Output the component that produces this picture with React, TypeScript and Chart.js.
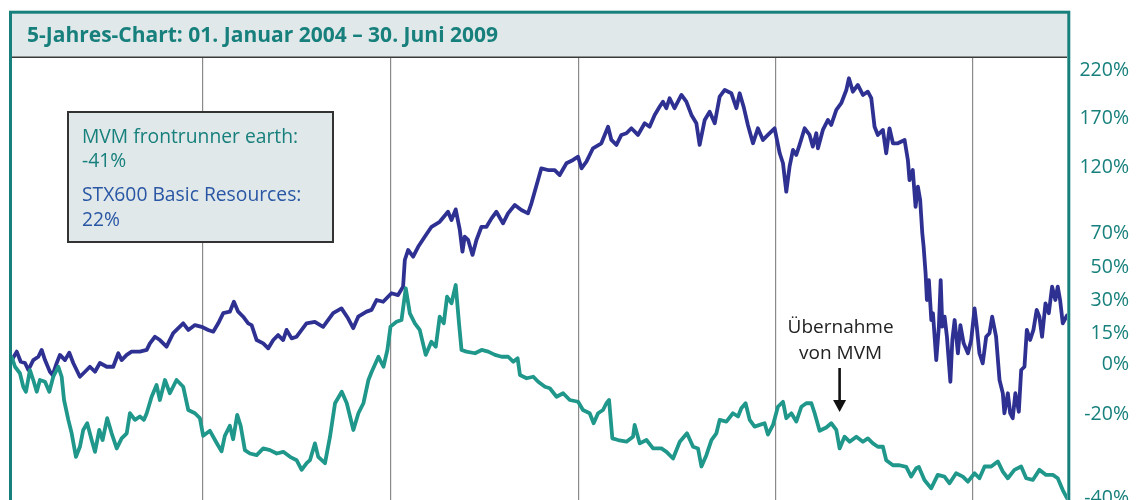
import { useEffect, useRef } from 'react';
import { Chart, registerables, LinearScale } from 'chart.js';

// ---------- data ----------
const yearTicks = [12, 24, 36, 48, 60]; // months since 01.01.2004 (year boundaries)
const yTicks = [-40, -20, 0, 15, 30, 50, 70, 120, 170, 220];

const seriesNames = ['MVM frontrunner earth', 'STX600 Basic Resources'];
const finalPerf = [-41, 22];

const annotationMonth = 51.88;
const annotationLines = ['Übernahme', 'von MVM'];
const titleText = '5-Jahres-Chart: 01. Januar 2004 \u2013 30. Juni 2009';

const stxMonths = [
  0, 0.30, 0.55, 0.82, 1.03, 1.34, 1.66, 1.87, 2.08, 2.39,
  2.56, 2.82, 3.02, 3.34, 3.61, 3.86, 4.28, 4.60, 4.91, 5.23,
  5.54, 5.97, 6.38, 6.70, 6.91, 7.23, 7.54, 8.06, 8.49, 8.69,
  9.01, 9.32, 9.74, 10.16, 10.79, 11.11, 11.53, 11.95, 12.37, 12.69,
  13.01, 13.33, 13.75, 14.01, 14.28, 14.60, 14.92, 15.14, 15.46, 15.88,
  16.20, 16.52, 16.83, 17.15, 17.37, 17.69, 18.01, 18.33, 18.64, 19.17,
  19.70, 20.34, 20.87, 21.29, 21.62, 21.94, 22.47, 22.79, 23.11, 23.53,
  24.06, 24.48, 24.80, 24.91, 25.12, 25.44, 25.76, 26.18, 26.61, 27.13,
  27.66, 27.88, 28.15, 28.41, 28.58, 28.72, 28.94, 29.22, 29.47, 29.79,
  30.11, 30.43, 30.74, 31.16, 31.48, 31.91, 32.33, 32.75, 32.97, 33.24,
  33.60, 34.02, 34.45, 34.77, 35.20, 35.62, 35.94, 36.15, 36.45, 36.85,
  37.36, 37.77, 37.97, 38.28, 38.58, 38.89, 39.19, 39.59, 40.00, 40.30,
  40.61, 40.91, 41.11, 41.32, 41.52, 41.82, 42.24, 42.54, 42.85, 43.15,
  43.35, 43.66, 43.96, 44.27, 44.57, 44.88, 45.28, 45.59, 45.79, 46.03,
  46.29, 46.60, 46.90, 47.21, 47.51, 47.92, 48.23, 48.43, 48.63, 48.83,
  49.04, 49.24, 49.44, 49.75, 50.05, 50.25, 50.46, 50.56, 50.86, 51.17,
  51.37, 51.68, 51.98, 52.29, 52.45, 52.69, 52.99, 53.30, 53.60, 53.81,
  54.01, 54.21, 54.52, 54.72, 54.92, 55.13, 55.43, 55.84, 56.04, 56.14,
  56.34, 56.51, 56.65, 56.79, 56.92, 57.00, 57.12, 57.20, 57.32, 57.47,
  57.57, 57.77, 57.93, 58.04, 58.14, 58.28, 58.42, 58.63, 58.75, 58.89,
  59.09, 59.24, 59.44, 59.70, 59.90, 60.11, 60.25, 60.42, 60.63, 60.85,
  61.06, 61.23, 61.48, 61.70, 61.91, 62.01, 62.23, 62.38, 62.54, 62.71,
  62.93, 63.08, 63.29, 63.44, 63.65, 63.86, 64.07, 64.24, 64.41, 64.63,
  64.84, 65.05, 65.26, 65.41, 65.56, 65.73, 66.0,
];
const stxValues = [
  2, 6.0, 1.1, 0.5, -2.4, 1.9, 3.5, 6.8, 1.9, -3.1,
  -4.4, 0.5, 4.4, 1.9, 5.5, 0.5, -5.1, -3.1, -1.1, -3.1,
  0.5, -1.1, -1.1, 5.2, 1.9, 4.4, 6.0, 6.0, 6.8, 10.0,
  13.2, 11.6, 8.4, 14.9, 19.4, 16.4, 18.6, 17.8, 16.4, 15.6,
  19.4, 24.0, 24.7, 29.2, 24.7, 22.4, 19.4, 18.6, 11.6, 10.0,
  7.6, 11.6, 14.0, 11.6, 16.4, 12.4, 13.2, 16.4, 19.4, 20.1,
  17.8, 24.0, 26.2, 21.7, 17.2, 22.4, 24.7, 25.5, 30, 29.2,
  34.1, 33.0, 38.1, 54.1, 60.0, 56.1, 61.9, 67.8, 74.7, 78.5,
  86.1, 79.9, 87.9, 72.3, 59.0, 67.8, 65.9, 57.1, 65.9, 74.7,
  74.7, 81.1, 86.1, 77.3, 84.9, 91.2, 87.4, 84.9, 92.5, 103.9,
  119.0, 117.7, 117.7, 113.9, 123.8, 127.2, 130.5, 119.0, 125.4, 139.1,
  144.2, 161.1, 147.6, 142.5, 152.7, 154.4, 159.5, 152.7, 164.6, 161.1,
  173.2, 181.8, 187.0, 180.2, 190.6, 180.2, 194.0, 187.0, 173.2, 164.6,
  142.5, 168.0, 176.6, 164.6, 192.2, 199.2, 195.8, 180.2, 195.8, 181.8,
  162.9, 144.2, 159.5, 147.6, 152.7, 159.5, 134.0, 123.8, 101.3, 120.3,
  137.4, 132.3, 142.5, 159.5, 152.7, 140.8, 154.4, 139.1, 157.8, 168.0,
  162.9, 178.4, 185.4, 199.2, 211.4, 197.4, 204.4, 194.0, 197.4, 190.6,
  161.1, 152.7, 157.8, 134.0, 159.5, 144.2, 144.2, 147.6, 127.2, 110.1,
  117.7, 89.9, 105.1, 95.0, 69.8, 62.0, 46.2, 30, 42.1, 20.9,
  23.9, 1.9, 17.9, 42.1, 17.9, 22.4, 13.2, -7.1, 11.6, 20.9,
  5.2, 18.6, 10.0, 5.2, 11.6, 26.2, 17.8, 5.2, 0.3, 13.2,
  14.9, 22.4, 13.2, -6.4, -11.7, -19.7, -11.7, -19.7, -21.0, -11.7,
  -19.1, -2.4, -1.1, 16.4, 11.6, 16.4, 25.5, 22.4, 13.2, 28.5,
  24.0, 38.1, 30, 38.1, 30, 19.4, 23,
];

const mvmMonths = [
  0, 0.19, 0.50, 0.71, 0.88, 1.13, 1.34, 1.56, 1.76, 2.08,
  2.35, 2.60, 2.92, 3.13, 3.28, 3.55, 3.76, 4.03, 4.28, 4.49,
  4.74, 5.02, 5.23, 5.50, 5.71, 6.00, 6.28, 6.60, 6.91, 7.23,
  7.43, 7.75, 8.06, 8.31, 8.49, 8.80, 9.11, 9.32, 9.64, 9.95,
  10.37, 10.79, 11.11, 11.53, 11.84, 12.05, 12.48, 12.91, 13.22, 13.43,
  13.75, 13.96, 14.22, 14.44, 14.71, 15.03, 15.46, 15.88, 16.31, 16.74,
  17.16, 17.59, 18.01, 18.33, 18.65, 18.86, 19.18, 19.39, 19.82, 20.14,
  20.46, 20.89, 21.21, 21.63, 21.95, 22.27, 22.59, 22.80, 23.23, 23.55,
  23.80, 24.00, 24.38, 24.70, 24.97, 25.23, 25.55, 25.86, 26.24, 26.60,
  26.88, 27.13, 27.39, 27.60, 27.88, 28.15, 28.36, 28.52, 28.83, 29.38,
  29.80, 30.22, 30.65, 31.07, 31.49, 31.81, 32.09, 32.24, 32.66, 33.09,
  33.40, 33.83, 34.14, 34.57, 34.99, 35.41, 35.94, 36.24, 36.65, 36.89,
  37.16, 37.46, 37.67, 37.83, 38.03, 38.38, 38.89, 39.29, 39.39, 39.70,
  40.11, 40.51, 41.02, 41.33, 41.73, 42.14, 42.58, 42.95, 43.25, 43.46,
  43.76, 44.07, 44.37, 44.57, 44.98, 45.38, 45.69, 45.89, 46.15, 46.40,
  46.70, 47.01, 47.31, 47.51, 47.82, 48.12, 48.43, 48.63, 48.94, 49.24,
  49.55, 49.85, 50.16, 50.36, 50.66, 51.07, 51.37, 51.68, 51.88, 52.18,
  52.49, 52.90, 53.30, 53.60, 53.91, 54.21, 54.52, 54.72, 55.13, 55.53,
  55.94, 56.24, 56.55, 56.71, 57.05, 57.46, 57.86, 58.27, 58.58, 58.98,
  59.39, 59.70, 60.11, 60.42, 60.75, 61.17, 61.59, 61.91, 62.23, 62.65,
  63.08, 63.40, 63.82, 64.24, 64.67, 65.10, 65.41, 65.73, 66.0,
];
const mvmValues = [
  3, -1.1, -3.7, -9.1, -11.1, -2.4, -6.4, -11.1, -6.4, -7.1,
  -11.1, -5.1, -1.1, -5.1, -14.4, -21.4, -24.6, -30.2, -27.8, -23.8,
  -22.2, -26.2, -29.0, -23.8, -26.2, -21.0, -24.6, -28.2, -25.8, -24.6,
  -19.7, -21.4, -20.6, -21.4, -19.7, -13.1, -8.4, -14.4, -6.4, -11.7,
  -6.4, -9.1, -18.4, -19.7, -21.0, -25.2, -24.0, -26.9, -28.9, -25.2,
  -22.8, -26.0, -20.2, -22.8, -28.6, -29.4, -29.8, -28.2, -28.6, -29.4,
  -29.0, -30.2, -31.0, -33.3, -31.7, -31.0, -27.0, -30.2, -31.7, -25.4,
  -15.7, -11.1, -15.7, -23.8, -19.7, -15.7, -6.4, -3.1, 3.5, -1.1,
  6.8, 17.9, 20.1, 20.9, 37.1, 23.9, 19.4, 16.4, 4.4, 10.8,
  8.4, 22.4, 19.4, 32.0, 28.5, 39.1, 19.4, 6.8, 6.0, 5.2,
  6.8, 6.0, 4.4, 3.5, 3.5, 1.1, 2.8, -4.4, -5.7, -5.1,
  -7.1, -9.1, -9.7, -13.1, -11.7, -14.4, -15.1, -18.4, -19.7, -22.2,
  -19.7, -18.4, -15.7, -14.4, -25.8, -26.2, -26.6, -25.4, -22.6, -27.0,
  -26.2, -28.2, -28.2, -29.0, -30.6, -26.6, -24.6, -27.8, -28.2, -32.5,
  -29.8, -26.2, -24.6, -21.4, -21.8, -19.7, -20.6, -17.7, -15.7, -21.4,
  -23.0, -22.6, -22.2, -24.9, -22.6, -17.1, -15.1, -21.0, -19.7, -21.8,
  -17.1, -15.7, -15.7, -19.7, -24.0, -23.2, -22.2, -23.8, -28.2, -25.4,
  -26.6, -25.4, -26.6, -25.8, -27.0, -27.8, -27.8, -31.0, -32.2, -32.2,
  -32.6, -34.9, -32.9, -32.6, -35.7, -37.7, -34.5, -34.9, -36.5, -34.1,
  -34.9, -36.1, -34.1, -35.3, -32.5, -32.5, -31.3, -33.7, -35.3, -33.3,
  -32.5, -35.3, -35.7, -33.3, -34.5, -34.5, -35.3, -38.1, -40,
];

// ---------- styles ----------
const FONT = '"Open Sans"';
const TEAL = '#17807c';
const TEAL_LINE = '#1f978b';
const BLUE_LINE = '#2e3192';
const BLUE_TEXT = '#2957a4';
const PANEL = '#e1e8ea';

// ---------- piecewise (warped) linear scales ----------
function pw(v: number, from: number[], to: number[]) {
  const n = from.length;
  let i = 0;
  if (v >= from[n - 1]) i = n - 2;
  else if (v > from[0]) {
    while (i < n - 2 && v > from[i + 1]) i++;
  }
  return to[i] + ((v - from[i]) * (to[i + 1] - to[i])) / (from[i + 1] - from[i]);
}

function makeWarpScale(id: string, knots: number[], pos: number[]) {
  return class extends LinearScale {
    static id = id;
    static defaults = {};
    getPixelForValue(value: number) {
      const a = pw(this.min, knots, pos);
      const b = pw(this.max, knots, pos);
      return this.getPixelForDecimal((pw(value, knots, pos) - a) / (b - a));
    }
    getValueForPixel(pixel: number) {
      const a = pw(this.min, knots, pos);
      const b = pw(this.max, knots, pos);
      return pw(a + this.getDecimalForPixel(pixel) * (b - a), pos, knots);
    }
  };
}

// layout of the original axes (virtual positions)
const WarpX = makeWarpScale('warpX', [0, 12, 24, 36, 48, 60, 66], [12, 202.5, 390.7, 579.3, 776.3, 973.3, 1067.5]);
const WarpY = makeWarpScale('warpY', yTicks, [-134, -50, 0, 31, 64, 97, 131, 197, 246, 294]);

Chart.register(...registerables, WarpX, WarpY);

const decorPlugin = {
  id: 'decor',
  beforeDraw(chart: any) {
    const { ctx, width, height } = chart;
    ctx.save();
    ctx.fillStyle = '#ffffff';
    ctx.fillRect(0, 0, width, height);
    ctx.fillStyle = PANEL;
    ctx.fillRect(12, 13, 1056, 44);
    ctx.restore();
  },
  afterDraw(chart: any) {
    const { ctx } = chart;
    const xs = chart.scales.x;
    const ys = chart.scales.y;
    ctx.save();
    // title bar bottom rule
    ctx.strokeStyle = '#3a3a3a';
    ctx.lineWidth = 1.5;
    ctx.beginPath();
    ctx.moveTo(12, 57.2);
    ctx.lineTo(1067, 57.2);
    ctx.stroke();
    // title
    ctx.fillStyle = TEAL;
    ctx.font = `bold 21px ${FONT}`;
    ctx.textAlign = 'left';
    ctx.textBaseline = 'alphabetic';
    ctx.fillText(titleText, 27, 42);

    // legend box
    ctx.fillStyle = PANEL;
    ctx.fillRect(68, 112, 265, 130);
    ctx.strokeStyle = '#333333';
    ctx.lineWidth = 2;
    ctx.strokeRect(68, 112, 265, 130);
    ctx.font = `19.3px ${FONT}`;
    ctx.fillStyle = TEAL;
    ctx.fillText(seriesNames[0] + ':', 82, 143);
    ctx.fillText(finalPerf[0] + '%', 82, 167);
    ctx.fillStyle = BLUE_TEXT;
    ctx.fillText(seriesNames[1] + ':', 82, 201);
    ctx.fillText(finalPerf[1] + '%', 82, 226);

    // annotation
    const ax = xs.getPixelForValue(annotationMonth);
    const tipY = ys.getPixelForValue(-19.2);
    ctx.fillStyle = '#222222';
    ctx.font = `19px ${FONT}`;
    ctx.textAlign = 'center';
    ctx.fillText(annotationLines[0], ax + 1, tipY - 79);
    ctx.fillText(annotationLines[1], ax + 1, tipY - 53);
    ctx.strokeStyle = '#111111';
    ctx.lineWidth = 2.6;
    ctx.beginPath();
    ctx.moveTo(ax, tipY - 44);
    ctx.lineTo(ax, tipY - 8);
    ctx.stroke();
    ctx.beginPath();
    ctx.moveTo(ax - 6.5, tipY - 12);
    ctx.lineTo(ax + 6.5, tipY - 12);
    ctx.lineTo(ax, tipY);
    ctx.closePath();
    ctx.fillStyle = '#111111';
    ctx.fill();

    // outer frame
    ctx.strokeStyle = TEAL;
    ctx.lineWidth = 3;
    ctx.strokeRect(10.5, 12.2, 1058.3, 700);
    ctx.restore();
  },
};

export default function App() {
  const ref = useRef<HTMLCanvasElement | null>(null);

  useEffect(() => {
    document.body.style.margin = '0';
    document.body.style.overflow = 'hidden';
    const canvas = ref.current;
    if (!canvas) return;

    const tickFont = { family: FONT, size: 19.5 };
    const measure = document.createElement('canvas').getContext('2d')!;
    measure.font = `19.5px ${FONT}`;
    const widest = Math.max(...yTicks.map((v) => measure.measureText(v + '%').width));
    const axisWidth = 62;

    const chart = new Chart(canvas, {
      type: 'line',
      data: {
        datasets: [
          {
            label: seriesNames[0],
            data: mvmMonths.map((m, i) => ({ x: m, y: mvmValues[i] })),
            borderColor: TEAL_LINE,
            borderWidth: 3.8,
            pointRadius: 0,
            tension: 0,
            borderJoinStyle: 'round',
            borderCapStyle: 'round',
          },
          {
            label: seriesNames[1],
            data: stxMonths.map((m, i) => ({ x: m, y: stxValues[i] })),
            borderColor: BLUE_LINE,
            borderWidth: 3.8,
            pointRadius: 0,
            tension: 0,
            borderJoinStyle: 'round',
            borderCapStyle: 'round',
          },
        ],
      },
      options: {
        animation: false,
        responsive: false,
        devicePixelRatio: 1,
        events: [],
        layout: { padding: { left: 12, right: 13, top: 58, bottom: 0 } },
        plugins: {
          legend: { display: false },
          tooltip: { enabled: false },
          title: { display: false },
        },
        scales: {
          x: {
            type: 'warpX',
            min: 0,
            max: 66,
            bounds: 'data',
            afterBuildTicks: (s: any) => {
              s.ticks = yearTicks.map((v) => ({ value: v }));
            },
            afterFit: (s: any) => {
              s.height = 0;
              s.paddingLeft = 0;
              s.paddingRight = 0;
              s.paddingTop = 0;
              s.paddingBottom = 0;
            },
            grid: { color: '#8a8a8a', lineWidth: 1.2, drawTicks: false },
            border: { display: false },
            ticks: { display: false },
          },
          y: {
            type: 'warpY',
            position: 'right',
            min: -50,
            max: 232.5,
            bounds: 'data',
            afterBuildTicks: (s: any) => {
              s.ticks = yTicks.map((v) => ({ value: v }));
            },
            afterFit: (s: any) => {
              s.width = axisWidth;
              s.paddingTop = 0;
              s.paddingBottom = 0;
              s.paddingLeft = 0;
              s.paddingRight = 0;
            },
            grid: { display: false, drawTicks: false },
            border: { display: false },
            ticks: {
              autoSkip: false,
              color: TEAL,
              font: tickFont,
              padding: axisWidth - widest,
              crossAlign: 'far',
              callback: (v: any) => v + '%',
            },
          },
        },
      } as any,
      plugins: [decorPlugin],
    });
    return () => chart.destroy();
  }, []);

  return (
    <div style={{ width: 1142, height: 500, overflow: 'hidden', position: 'relative' }}>
      <canvas ref={ref} width={1142} height={540} style={{ display: 'block' }} />
    </div>
  );
}
